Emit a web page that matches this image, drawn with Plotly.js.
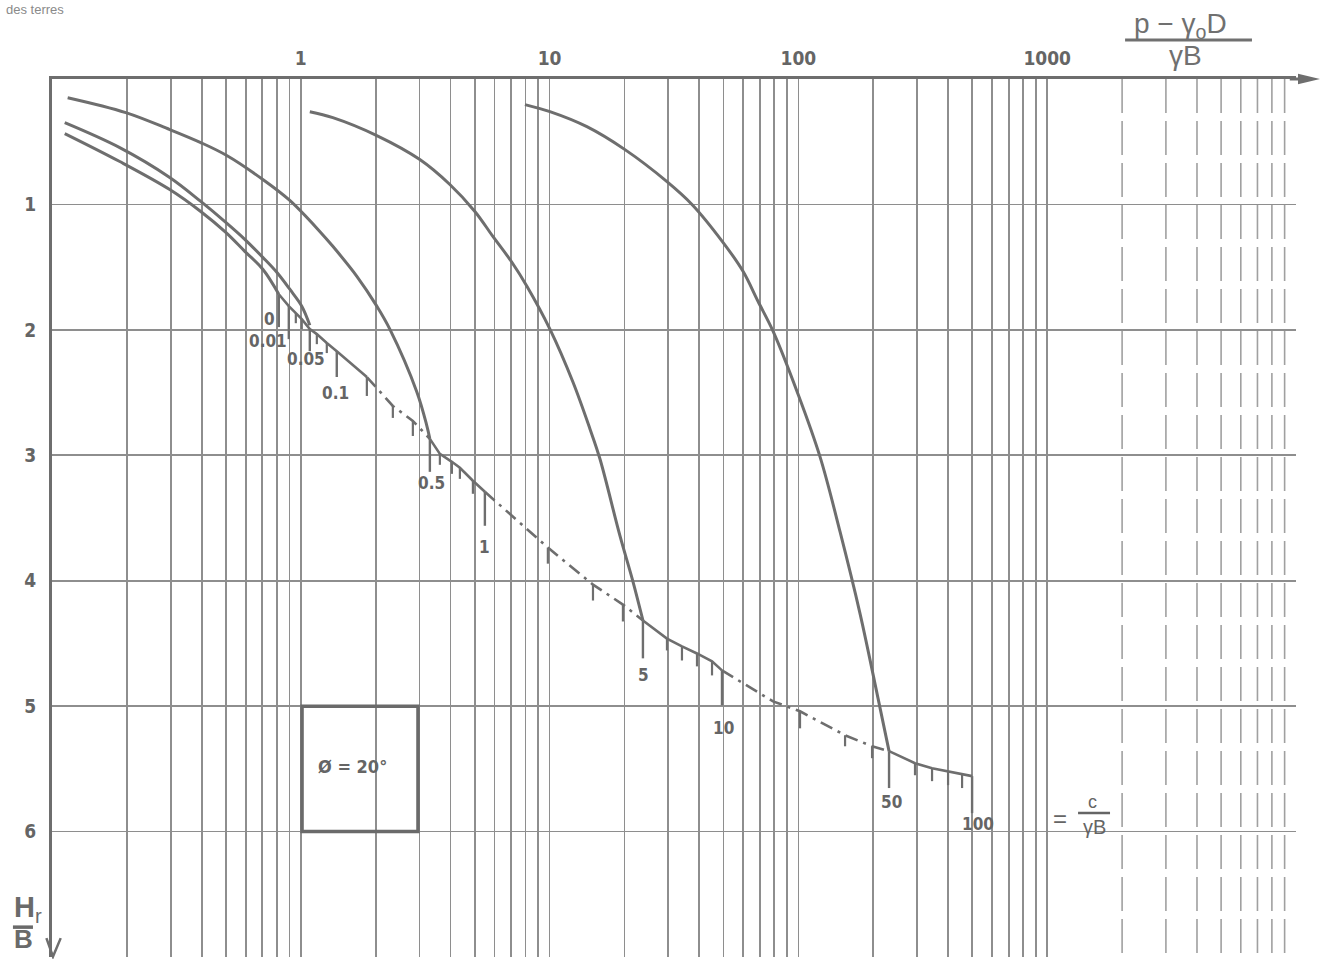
<!DOCTYPE html>
<html>
<head>
<meta charset="utf-8">
<script src="https://cdn.plot.ly/plotly-3.0.1.min.js"></script>
<style>
html,body{margin:0;padding:0;background:#fff;}
#chart{width:1330px;height:959px;}
</style>
</head>
<body>
<div id="chart"></div>
<script>
// ---------------- data ----------------
// x : (p - γ0·D)/(γ·B)  (log scale)      y : Hr/B (depth, downwards)

// curve ending at c/γB = 0
const c0P = [0.1125, 0.1872, 0.2973, 0.3962, 0.4995, 0.5955, 0.7035, 0.816];
const c0H = [0.435, 0.658, 0.881, 1.056, 1.223, 1.374, 1.517, 1.716];
// curve ending at c/γB = 0.05
const c005P = [0.1125, 0.1872, 0.2973, 0.3962, 0.4995, 0.5955, 0.7035, 0.8007, 0.903, 1.009, 1.087];
const c005H = [0.348, 0.547, 0.785, 0.976, 1.143, 1.278, 1.422, 1.541, 1.676, 1.811, 1.963];
// curve ending at c/γB = 0.5
const c05P = [0.1156, 0.198, 0.2973, 0.3962, 0.5040, 0.7035, 0.903, 1.192, 1.345, 1.680, 2.021, 2.279, 2.927, 3.211, 3.302];
const c05H = [0.149, 0.268, 0.403, 0.507, 0.610, 0.801, 0.968, 1.215, 1.334, 1.573, 1.811, 1.994, 2.495, 2.765, 2.869];
// curve ending at c/γB = 5
const c5P = [1.087, 1.345, 2.021, 3.009, 3.973, 5.008, 5.916, 7.053, 8.105, 10.03, 12.41, 14.53, 15.93, 19.17, 21.63, 23.72];
const c5H = [0.261, 0.308, 0.451, 0.642, 0.841, 1.056, 1.255, 1.461, 1.652, 1.994, 2.416, 2.790, 3.028, 3.641, 4.007, 4.317];
// curve ending at c/γB = 50
const c50P = [7.96, 10.03, 14.12, 20.09, 29.63, 37.35, 49.76, 59.9, 68.8, 79.07, 99.6, 122.2, 147.0, 176.9, 209.0, 231.4];
const c50H = [0.204, 0.260, 0.380, 0.563, 0.818, 1.0, 1.302, 1.533, 1.772, 2.010, 2.511, 3.013, 3.609, 4.262, 4.938, 5.359];

// limit line (end points of the curves, parameter c/γB)
const limP = [0.816, 0.895, 0.955, 1.009, 1.087, 1.160, 1.272, 1.395, 1.843, 2.344, 2.821, 3.302, 3.622, 4.048,
              4.359, 4.917, 5.494, 9.84, 14.94, 19.71, 23.72, 29.63, 34.04, 39.12, 44.96, 49.3, 79.07, 101.5,
              154.0, 197.7, 231.4, 294.2, 344.5, 399.5, 454.8, 499];
const limH = [1.716, 1.811, 1.867, 1.915, 1.994, 2.034, 2.105, 2.170, 2.376, 2.607, 2.726, 2.869, 2.989, 3.052,
              3.100, 3.203, 3.291, 3.736, 4.031, 4.190, 4.317, 4.461, 4.524, 4.580, 4.643, 4.715, 4.962, 5.041,
              5.232, 5.320, 5.359, 5.455, 5.495, 5.519, 5.543, 5.558];

// small ticks on the limit line (intermediate c/γB values)
const smallTickP   = [0.955, 1.009, 1.160, 1.272, 1.843, 2.344, 2.821, 3.622, 4.048, 4.359, 4.917, 9.84, 14.94,
                      19.71, 29.63, 34.04, 39.12, 44.96, 101.5, 154.0, 197.7, 294.2, 344.5, 399.5, 454.8];
const smallTickTop = [1.867, 1.915, 2.034, 2.105, 2.376, 2.607, 2.726, 2.989, 3.052, 3.100, 3.203, 3.736, 4.031,
                      4.190, 4.461, 4.524, 4.580, 4.643, 5.041, 5.232, 5.320, 5.455, 5.495, 5.519, 5.543];
const smallTickBot = [1.947, 1.994, 2.114, 2.185, 2.527, 2.702, 2.846, 3.076, 3.148, 3.188, 3.307, 3.864, 4.158,
                      4.325, 4.556, 4.636, 4.683, 4.755, 5.177, 5.320, 5.415, 5.551, 5.598, 5.630, 5.653];

// labelled ticks on the limit line
const labText = ['0', '0.01', '0.05', '0.1', '0.5', '1', '5', '10', '50', '100'];
const labP    = [0.816, 0.895, 1.087, 1.395, 3.302, 5.494, 23.72, 49.3, 231.4, 499];
const labTop  = [1.716, 1.811, 1.994, 2.170, 2.869, 3.291, 4.317, 4.715, 5.359, 5.558];
const labBot  = [1.978, 2.074, 2.170, 2.376, 3.132, 3.562, 4.619, 4.993, 5.653, 5.853];

// axis tick labels
const xLabelVals = [1, 10, 100, 1000];
const yLabelVals = [1, 2, 3, 4, 5, 6];

// ---------------- style ----------------
const LINE = '#6e6e6e';
const GRID = '#8e8e8e';
const TEXT = '#656565';
const NUMFONT = 'Liberation Sans Narrow, DejaVu Sans Condensed, Arial Narrow, sans-serif';
const SANS = 'Liberation Sans, Arial, sans-serif';

// label offsets (px) relative to the bottom of each labelled tick
const labDx = [-9, -21, -4, -1, 2, 0, 1, 2, 2, 6];
const labDy = [-8, 2, 8, 16, 11, 21, 17, 23, 14, 11];

// grid positions of the log axis
const gridX = [], gridXText = [], faintX = [];
for (let e = -1; e <= 3; e++) {
  for (let d = 1; d <= 9; d++) {
    const v = d * Math.pow(10, e);
    if (e === 3 && d > 1) { faintX.push(v); continue; }
    gridX.push(v);
    gridXText.push(xLabelVals.indexOf(v) >= 0 ? String(v) : '');
  }
}
gridX.push(10000); gridXText.push('');
const yGrid = yLabelVals.concat([7]);
const yText = yLabelVals.map(String).concat(['']);

function curve(px, py) {
  return {x: px, y: py, type: 'scatter', mode: 'lines', hoverinfo: 'skip',
          line: {color: LINE, width: 3, shape: 'spline', smoothing: 1.0}};
}
function segment(i0, i1, dash) {
  return {x: limP.slice(i0, i1 + 1), y: limH.slice(i0, i1 + 1), type: 'scatter', mode: 'lines',
          hoverinfo: 'skip', line: {color: LINE, width: 2.6, dash: dash}};
}
function tickTrace(P, T, B, w) {
  const x = [], y = [];
  P.forEach((p, i) => { x.push(p, p, null); y.push(T[i], B[i], null); });
  return {x: x, y: y, type: 'scatter', mode: 'lines', hoverinfo: 'skip', line: {color: LINE, width: w}};
}

const faintGrid = {x: [], y: [], type: 'scatter', mode: 'lines', hoverinfo: 'skip',
                   line: {color: '#a0a0a0', width: 1.6, dash: '34px,8px'}};
faintX.forEach(v => { faintGrid.x.push(v, v, null); faintGrid.y.push(0, 7, null); });

const solidRanges = [[0, 8], [11, 16], [20, 25], [30, 35]];
const dashRanges = [[8, 11], [16, 20], [25, 30]];

const traces = [faintGrid,
  curve(c0P, c0H), curve(c005P, c005H), curve(c05P, c05H), curve(c5P, c5H), curve(c50P, c50H)];
solidRanges.forEach(r => traces.push(segment(r[0], r[1], 'solid')));
dashRanges.forEach(r => traces.push(segment(r[0], r[1], '13px,6px,3px,6px')));
traces.push(tickTrace(smallTickP, smallTickTop, smallTickBot, 2.2));
traces.push(tickTrace(labP, labTop, labBot, 2.4));

const annotations = labText.map((t, i) => ({
  xref: 'x', yref: 'y', x: Math.log10(labP[i]), y: labBot[i], text: t, showarrow: false,
  xanchor: 'center', yanchor: 'middle', xshift: labDx[i], yshift: -labDy[i],
  font: {family: NUMFONT, size: 17, color: TEXT, weight: 700}
}));

// plot area: x 52..1296 px, y 79..957 px
annotations.push(
  {xref: 'paper', yref: 'paper', x: 0.9068, y: 1.0604, text: 'p − γ<sub>o</sub>D', showarrow: false,
   xanchor: 'center', yanchor: 'middle', font: {family: SANS, size: 28, color: '#707070'}},
  {xref: 'paper', yref: 'paper', x: 0.9108, y: 1.0262, text: 'γB', showarrow: false,
   xanchor: 'center', yanchor: 'middle', font: {family: SANS, size: 28, color: '#707070'}},
  {xref: 'paper', yref: 'paper', x: -0.0322, y: 0.0545, text: '<b>H</b><sub>r</sub>', showarrow: false,
   xanchor: 'left', yanchor: 'middle', font: {family: SANS, size: 29, color: '#6a6a6a'}},
  {xref: 'paper', yref: 'paper', x: -0.0322, y: 0.0010, text: '<b>B</b>', showarrow: false,
   xanchor: 'left', yanchor: 'bottom', font: {family: SANS, size: 26, color: '#6a6a6a'}},
  {xref: 'paper', yref: 'paper', x: 0.8103, y: 0.1583, text: '=', showarrow: false,
   xanchor: 'center', yanchor: 'middle', font: {family: SANS, size: 24, color: TEXT}},
  {xref: 'paper', yref: 'paper', x: 0.8368, y: 0.1760, text: 'c', showarrow: false,
   xanchor: 'center', yanchor: 'middle', font: {family: SANS, size: 18, color: TEXT}},
  {xref: 'paper', yref: 'paper', x: 0.8384, y: 0.1480, text: 'γB', showarrow: false,
   xanchor: 'center', yanchor: 'middle', font: {family: SANS, size: 20, color: TEXT}},
  {xref: 'paper', yref: 'y', x: 0.2412, y: 5.48, text: 'Ø = 20°', showarrow: false,
   xanchor: 'center', yanchor: 'middle', font: {family: NUMFONT, size: 18, color: TEXT, weight: 700}},
  {xref: 'paper', yref: 'paper', x: -0.0378, y: 1.0892, text: 'des terres', showarrow: false,
   xanchor: 'left', yanchor: 'top', borderpad: 0, font: {family: SANS, size: 13, color: '#8a8a8a'}}
);

const shapes = [
  // x-axis title fraction bar
  {type: 'line', xref: 'paper', yref: 'paper', x0: 0.8626, x1: 0.9646, y0: 1.0444, y1: 1.0444,
   line: {color: '#707070', width: 3}},
  // y-axis title fraction bar
  {type: 'line', xref: 'paper', yref: 'paper', x0: -0.0314, x1: -0.0153, y0: 0.0340, y1: 0.0340,
   line: {color: '#6a6a6a', width: 3.5}},
  // c/γB fraction bar
  {type: 'line', xref: 'paper', yref: 'paper', x0: 0.8248, x1: 0.8505, y0: 0.1640, y1: 0.1640,
   line: {color: TEXT, width: 2.5}},
  // phi box
  {type: 'rect', xref: 'paper', yref: 'y', x0: 0.2010, x1: 0.2942, y0: 5, y1: 6,
   line: {color: '#6a6a6a', width: 3.5}, fillcolor: 'rgba(0,0,0,0)'},
  // x-axis arrow
  {type: 'line', xref: 'paper', yref: 'paper', x0: 0.995, x1: 1.008, y0: 1, y1: 1,
   line: {color: LINE, width: 3}},
  {type: 'path', xref: 'paper', yref: 'paper', path: 'M 1.0193 1 L 1.0016 1.0060 L 1.0016 0.9940 Z',
   fillcolor: LINE, line: {width: 0}},
  // y-axis arrow (open V)
  {type: 'path', xref: 'paper', yref: 'paper', path: 'M -0.0045 0.0215 L 0.0008 0.0005 L 0.0070 0.0215',
   line: {color: LINE, width: 2.5}}
];

const layout = {
  width: 1330, height: 959,
  margin: {l: 52, r: 34, t: 79, b: 2, autoexpand: false},
  paper_bgcolor: '#ffffff', plot_bgcolor: '#ffffff',
  showlegend: false,
  xaxis: {type: 'log', range: [-1, 4], side: 'top', tickmode: 'array', tickvals: gridX, ticktext: gridXText,
          ticks: '', showgrid: true, gridcolor: GRID, gridwidth: 1.8, showline: true, linecolor: LINE,
          linewidth: 3, zeroline: false, ticklabelstandoff: 3, fixedrange: true,
          tickfont: {family: NUMFONT, size: 19, color: TEXT, weight: 700}},
  yaxis: {range: [7, 0], tickmode: 'array', tickvals: yGrid, ticktext: yText, ticks: '', showgrid: true,
          gridcolor: GRID, gridwidth: 1.8, showline: true, linecolor: LINE, linewidth: 3, zeroline: false,
          ticklabelstandoff: 9, fixedrange: true,
          tickfont: {family: NUMFONT, size: 19, color: TEXT, weight: 700}},
  annotations: annotations,
  shapes: shapes
};

Plotly.newPlot('chart', traces, layout, {staticPlot: true, displayModeBar: false});
</script>
</body>
</html>
